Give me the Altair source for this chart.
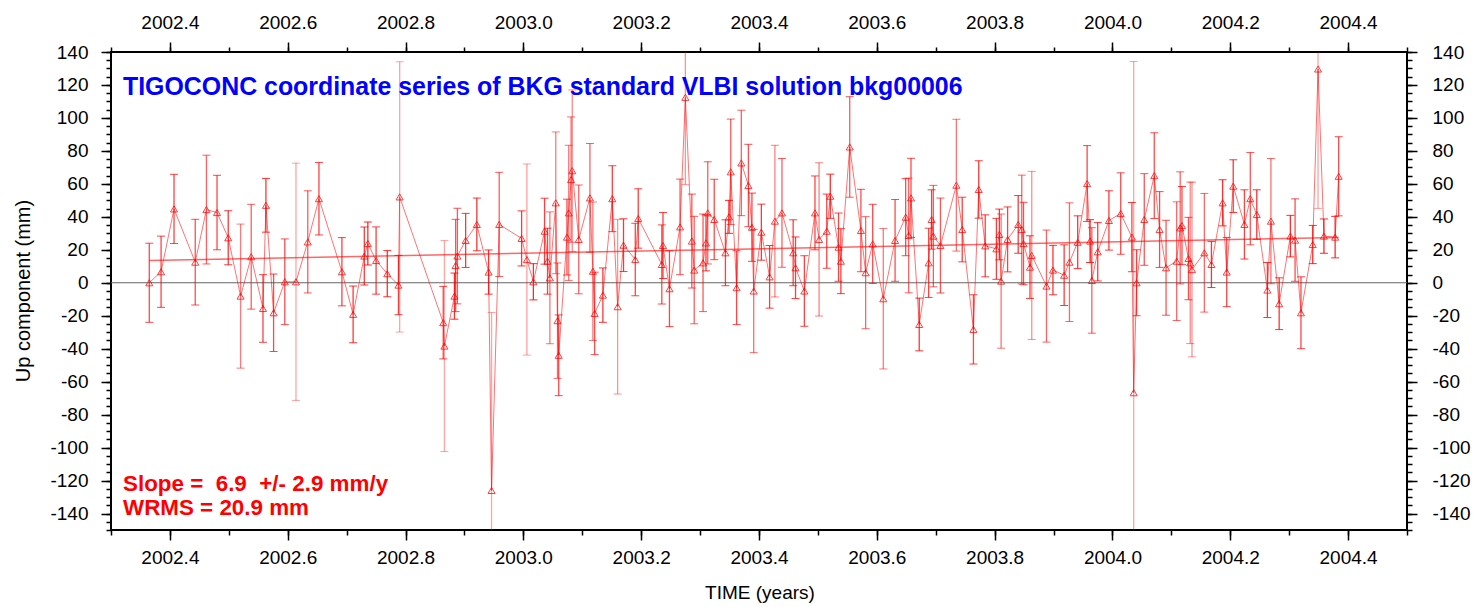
import altair as alt
import pandas as pd

# Epochs (decimal years), Up residuals (mm) and formal errors (mm)
years = [
    2002.365, 2002.385, 2002.407, 2002.443, 2002.462, 2002.480, 2002.499, 2002.520,
    2002.538, 2002.558, 2002.563, 2002.576, 2002.595, 2002.614, 2002.634, 2002.653,
    2002.692, 2002.711, 2002.730, 2002.736, 2002.750, 2002.769, 2002.788, 2002.790,
    2002.864, 2002.866, 2002.883, 2002.885, 2002.888, 2002.902, 2002.921, 2002.941,
    2002.946, 2002.959, 2002.997, 2003.006, 2003.017,
    2003.036, 2003.041, 2003.045, 2003.055, 2003.058, 2003.060, 2003.074, 2003.077,
    2003.081, 2003.083, 2003.094, 2003.113, 2003.118, 2003.121, 2003.135, 2003.151,
    2003.160, 2003.170, 2003.190, 2003.195, 2003.235, 2003.237, 2003.248, 2003.266,
    2003.275, 2003.286, 2003.290, 2003.305, 2003.310, 2003.313, 2003.324, 2003.343,
    2003.349, 2003.352, 2003.362, 2003.370, 2003.382, 2003.388, 2003.391, 2003.404,
    2003.418,
    2003.427, 2003.439, 2003.458, 2003.462, 2003.477, 2003.495, 2003.502, 2003.515,
    2003.521, 2003.535, 2003.539, 2003.554, 2003.573, 2003.581, 2003.593, 2003.611,
    2003.631, 2003.649, 2003.654, 2003.658, 2003.672, 2003.688, 2003.693, 2003.696,
    2003.708, 2003.735, 2003.745, 2003.764, 2003.773, 2003.784,
    2003.803, 2003.808, 2003.811, 2003.822, 2003.840, 2003.846, 2003.849, 2003.860,
    2003.863, 2003.888, 2003.899, 2003.918, 2003.927, 2003.941, 2003.957, 2003.962,
    2003.965, 2003.975, 2003.994, 2004.014, 2004.033, 2004.036, 2004.041, 2004.054,
    2004.071, 2004.080, 2004.091, 2004.109, 2004.115, 2004.118, 2004.129, 2004.132,
    2004.135, 2004.156,
    2004.168, 2004.187, 2004.194, 2004.205, 2004.224, 2004.234, 2004.245, 2004.263,
    2004.269, 2004.283, 2004.302, 2004.310, 2004.320, 2004.340, 2004.349, 2004.359,
    2004.378, 2004.384,
]

up_mm = [
    0.0, 6.7, 44.8, 12.5, 44.4, 42.6, 27.3, -8.1,
    15.8, -15.6, 47.0, -18.2, 0.6, 0.6, 24.8, 51.0,
    6.7, -19.2, 16.2, 23.8, 13.5, 5.5, -1.4, 52.1,
    -24.2, -38.4, -8.1, 10.5, 16.2, 25.7, 35.4, 6.5,
    -126.0, 35.4, 26.9, 14.1, 0.6,
    31.3, 13.1, 3.0, 48.5, -23.0, -44.0, 27.7, 42.4,
    62.6, 68.0, 26.3, 51.5, 7.0, -18.6, -7.5, 51.0,
    -14.5, 22.8, 14.1, 39.0, 11.1, 22.6, -3.6, 33.9,
    112.5, 25.3, 7.7, 12.1, 24.2, 42.4, 38.4, 18.2,
    40.0, 67.3, -3.0, 72.7, 59.0, 33.7, -5.0, 30.7,
    3.6,
    37.4, 42.4, 18.2, 9.1, -5.0, 42.4, 26.3, 31.3,
    52.5, 21.6, 13.1, 82.4, 31.7, 6.1, 23.6, -9.7,
    25.7, 39.8, 28.7, 51.5, -25.3, 12.1, 38.4, 28.3,
    22.6, 59.2, 32.3, -28.3, 56.6, 22.4,
    20.6, 29.3, 1.0, 26.3, 35.4, 32.3, 23.8, 9.5,
    16.6, -2.0, 7.7, 4.6, 12.5, 24.6, 60.2, 25.3,
    1.4, 18.8, 37.8, 42.0, 27.7, -66.7, 0.0, 38.4,
    65.0, 32.3, 9.1, 13.1, 33.3, 34.7, 14.7, 12.1,
    8.0, 18.2,
    11.1, 48.5, 6.5, 58.6, 35.4, 51.0, 41.4, -4.4,
    37.4, -12.7, 28.3, 25.9, -18.2, 23.2, 129.7, 28.3,
    27.7, 64.6,
]

sigma_mm = [
    24, 21.6, 21, 26, 33, 22.6, 16.4, 43.7,
    31.8, 20.5, 16.3, 23.5, 26, 72, 31, 22,
    20.7, 17.2, 17.6, 13, 20.4, 14, 18, 82,
    22, 64, 14, 28, 29, 16.4, 16, 13.4,
    108, 31.6, 16.7, 58, 11,
    20, 20, 40, 43, 35, 24.5, 23, 41,
    38, 49, 33, 33, 42, 25, 16.5, 20,
    53, 16, 22, 18, 24, 20, 23, 29,
    53, 28.5, 32.6, 29.6, 17, 31, 24.4, 20,
    10, 32, 22.4, 32, 25, 20.7, 37.4, 17,
    19,
    46, 33, 20, 18.7, 21.4, 22.4, 46.5, 22.5,
    13.4, 20.7, 19.7, 30.5, 25, 34, 24, 42.6,
    24.8, 23.4, 34.8, 24, 16, 21, 18, 30.8,
    28.8, 40, 19.6, 21, 17.4, 18.8,
    18.5, 15.4, 40.7, 19.7, 17.5, 33, 25, 19,
    51, 34, 15, 18.4, 36, 16, 23, 13,
    32, 17.7, 18, 24.7, 21, 201, 20, 27.8,
    26, 23, 28.8, 36, 34, 23.7, 25, 49,
    53, 36,
    14, 14, 21, 16, 21, 28, 15, 16.7,
    38, 15.7, 12.6, 25, 21.8, 11.6, 84.6, 10.4,
    12.6, 24,
]

# Linear trend and statistics
slope_mm_per_yr = 6.9
slope_sigma = 2.9
wrms_mm = 20.9
trend_start = 13.5

# Axis tick positions
x_minor = [round(2002.3 + 0.1 * i, 1) for i in range(23)]
x_major = [round(2002.4 + 0.2 * i, 1) for i in range(11)]
y_minor = list(range(-150, 141, 5))
y_major = list(range(-140, 141, 20))

df = pd.DataFrame({"t": years, "up": up_mm, "err": sigma_mm})
df["lo"] = df["up"] - df["err"]
df["hi"] = df["up"] + df["err"]

t0, t1 = years[0], years[-1]
trend = pd.DataFrame({
    "t": [t0, t1],
    "up": [trend_start, trend_start + slope_mm_per_yr * (t1 - t0)],
})

FONT = "Liberation Sans"
RED = "#ff0000"
NB = "\u00a0"  # keeps the doubled spaces in the statistics line
xs = alt.Scale(domain=[2002.3, 2004.5], nice=False, zero=False)
ys = alt.Scale(domain=[-150, 140], nice=False, zero=False)

base = alt.Chart(df)
opacity = alt.Opacity(
    "err:Q",
    scale=alt.Scale(domain=[10, 60], range=[0.85, 0.36], clamp=True),
    legend=None,
)

zero_line = alt.Chart(pd.DataFrame({"z": [0]})).mark_rule(
    color="#666666", strokeWidth=1
).encode(y=alt.Y("z:Q", scale=ys, axis=None))

trend_line = alt.Chart(trend).mark_line(
    color=RED, strokeWidth=1.5, opacity=0.6
).encode(
    x=alt.X("t:Q", scale=xs, axis=None),
    y=alt.Y("up:Q", scale=ys, axis=None),
)

bars = base.mark_rule(color=RED, strokeWidth=1.3, clip=True).encode(
    x=alt.X("t:Q", scale=xs, axis=None),
    y=alt.Y("lo:Q", scale=ys, axis=None),
    y2="hi:Q",
    opacity=opacity,
)

cap_lo = base.mark_tick(
    color=RED, orient="horizontal", size=8, thickness=1, clip=True
).encode(
    x=alt.X("t:Q", scale=xs, axis=None),
    y=alt.Y("lo:Q", scale=ys, axis=None),
    opacity=opacity,
)
cap_hi = base.mark_tick(
    color=RED, orient="horizontal", size=8, thickness=1, clip=True
).encode(
    x=alt.X("t:Q", scale=xs, axis=None),
    y=alt.Y("hi:Q", scale=ys, axis=None),
    opacity=opacity,
)

series = base.mark_line(color=RED, strokeWidth=1, opacity=0.55).encode(
    x=alt.X("t:Q", scale=xs, axis=None),
    y=alt.Y("up:Q", scale=ys, axis=None),
    order="t:Q",
)

points = base.mark_point(
    shape="triangle-up", filled=False, size=50, strokeWidth=1,
    color=RED, opacity=0.75,
).encode(
    x=alt.X("t:Q", scale=xs, axis=None),
    y=alt.Y("up:Q", scale=ys, axis=None),
)


def x_axis_layer(orient, values, tick, labels):
    ax = alt.Axis(
        orient=orient, values=values, tickSize=tick, labels=labels,
        domain=False, grid=False, title=None, tickColor="black", tickWidth=1.5,
        labelFont=FONT, labelFontSize=19, labelColor="black",
        labelPadding=8 if orient == "bottom" else 10,
        labelExpr="format(datum.value, '.1f')",
    )
    return base.mark_point(opacity=0).encode(
        x=alt.X("t:Q", scale=xs, axis=ax),
        y=alt.Y("up:Q", scale=ys, axis=None),
    )


def y_axis_layer(orient, values, tick, labels):
    ax = alt.Axis(
        orient=orient, values=values, tickSize=tick, labels=labels,
        domain=False, grid=False, title=None, tickColor="black", tickWidth=1.5,
        labelFont=FONT, labelFontSize=19, labelColor="black",
        labelPadding=13 if orient == "left" else 15,
        labelExpr="'' + datum.value",
    )
    return base.mark_point(opacity=0).encode(
        x=alt.X("t:Q", scale=xs, axis=None),
        y=alt.Y("up:Q", scale=ys, axis=ax),
    )


axes = [
    x_axis_layer("bottom", x_minor, 5, False),
    x_axis_layer("bottom", x_major, 10, True),
    x_axis_layer("top", x_minor, 5, False),
    x_axis_layer("top", x_major, 10, True),
    y_axis_layer("left", y_minor, 5, False),
    y_axis_layer("left", y_major, 10, True),
    y_axis_layer("right", y_minor, 5, False),
    y_axis_layer("right", y_major, 10, True),
]


def label(text, x, y, size, color="black", weight="normal", angle=0, align="left"):
    return alt.Chart(pd.DataFrame({"s": [text]})).mark_text(
        font=FONT, fontSize=size, fontWeight=weight, color=color,
        align=align, baseline="alphabetic", angle=angle,
    ).encode(text="s:N", x=alt.value(x), y=alt.value(y))


texts = [
    label("TIGOCONC coordinate series of BKG standard VLBI solution bkg00006",
          12, 43, 24.9, color="#0000ff", weight="bold"),
    label(f"Slope = {NB}{slope_mm_per_yr} {NB}+/- {slope_sigma} mm/y",
          12, 439, 22.4, color=RED, weight="bold"),
    label(f"WRMS = {wrms_mm} mm", 12, 463, 22.4, color=RED, weight="bold"),
    label("TIME (years)", 649, 547, 19, align="center"),
    label("Up component (mm)", -81, 239, 20, angle=270, align="center"),
]

chart = alt.layer(
    zero_line, trend_line, bars, cap_lo, cap_hi, series, points, *axes, *texts
).resolve_axis(
    x="independent", y="independent"
).properties(
    width=1296,
    height=478,
    autosize=alt.AutoSizeParams(type="none"),
    padding={"left": 111, "top": 52, "right": 67, "bottom": 77},
    background="white",
).configure_view(
    stroke="black", strokeWidth=2
)

chart.save("out.html", embed_options={"renderer": "svg", "actions": False})
